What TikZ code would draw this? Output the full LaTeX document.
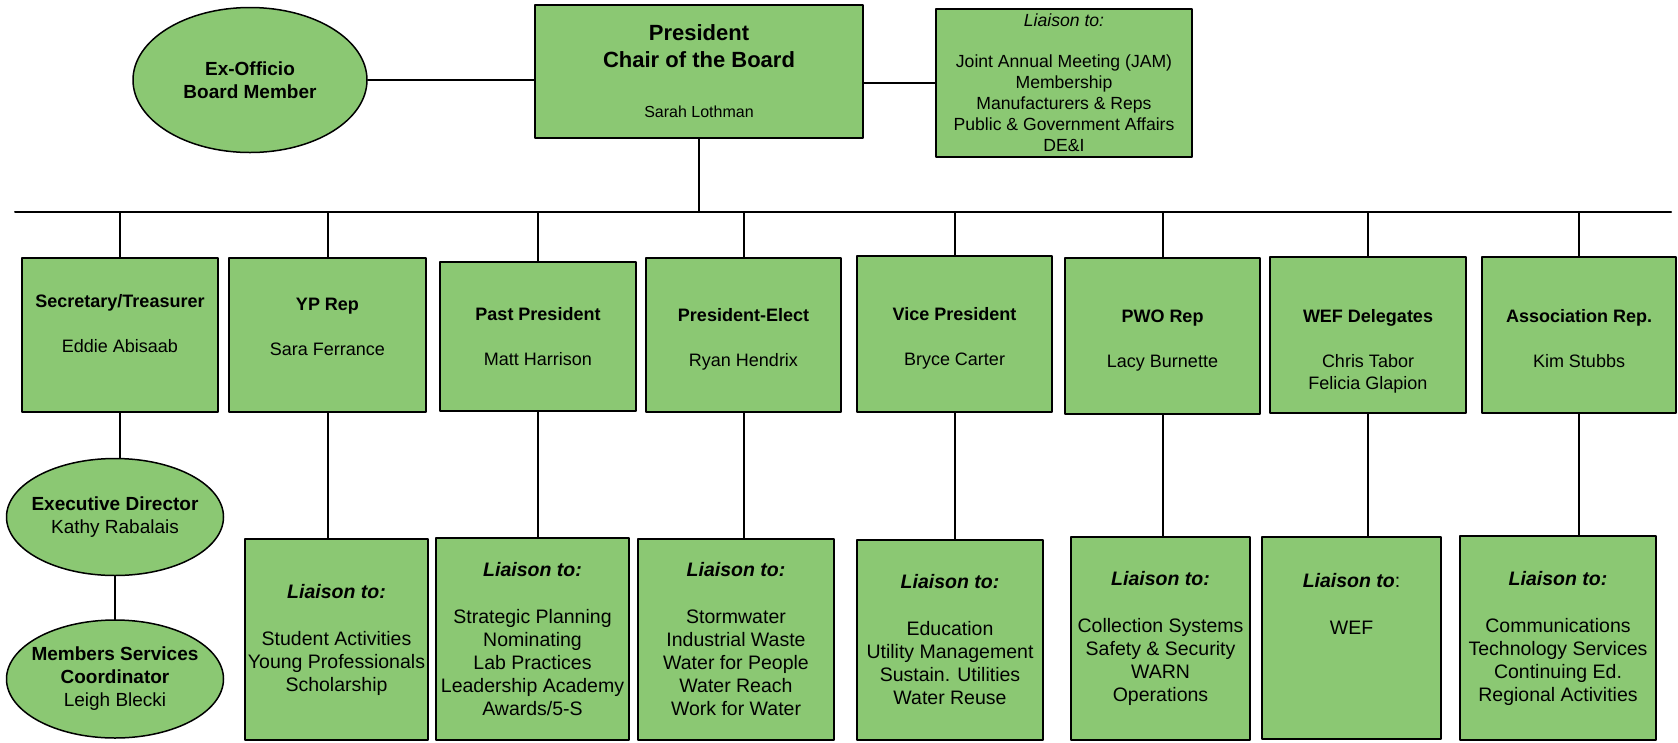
\documentclass[tikz,border=0pt]{standalone}
\usepackage{fontspec}
\setmainfont{Liberation Sans}
\usepackage{xcolor}
\usepackage{tikz}
\usetikzlibrary{shapes.geometric}
\definecolor{hhccgg}{rgb}{0.545,0.784,0.451}
\tikzstyle{every node}=[font=\fontsize{18}{22}\selectfont]
\tikzstyle{officebox}=[rectangle,draw=black,line width=2.4pt,fill=hhccgg,align=center,inner sep=0pt]
\tikzstyle{liaisonbox}=[officebox,font=\fontsize{19.5}{23}\selectfont]
\tikzstyle{staffoval}=[ellipse,draw=black,line width=1.5pt,fill=hhccgg,align=center,inner xsep=-30pt,inner ysep=0pt,font=\fontsize{19}{23}\selectfont]
\tikzstyle{link}=[line width=2pt,color=black]

\begin{document}
\begin{tikzpicture}[line cap=round,line join=round,x=1pt,y=-1pt]
\useasboundingbox (0,0) rectangle (1678,742);
\node[staffoval,minimum width=234pt,minimum height=145pt] (exo) at (250,80) {\textbf{Ex-Officio}\\\textbf{Board Member}};
\node[officebox,minimum width=328pt,minimum height=133pt,font=\fontsize{22}{27}\selectfont] (pres) at (699,71.5) {\textbf{President}\\\textbf{Chair of the Board}\\[23pt]{\fontsize{16}{19}\selectfont Sarah Lothman}};
\node[officebox,minimum width=256pt,minimum height=148pt,font=\fontsize{17.6}{21}\selectfont] (presl) at (1064,83) {\textit{Liaison to:}\\[20pt]Joint Annual Meeting (JAM)\\Membership\\Manufacturers \& Reps\\Public \& Government Affairs\\DE\&I};
\node[officebox,minimum width=196pt,minimum height=154pt] (sec) at (120,335) {\textbf{Secretary/Treasurer}\\[23pt]Eddie Abisaab\\[1pt]\mbox{}};
\node[officebox,minimum width=197pt,minimum height=154pt] (yp) at (327.5,335) {\textbf{YP Rep}\\[23pt]Sara Ferrance\\[-5pt]\mbox{}};
\node[officebox,minimum width=196pt,minimum height=149pt] (pp) at (538,336.5) {\textbf{Past President}\\[23pt]Matt Harrison};
\node[officebox,minimum width=195pt,minimum height=154pt] (pe) at (743.5,335) {\mbox{}\\[-1pt]\textbf{President-Elect}\\[23pt]Ryan Hendrix};
\node[officebox,minimum width=195pt,minimum height=156pt] (vp) at (954.5,334) {\mbox{}\\[-1pt]\textbf{Vice President}\\[23pt]Bryce Carter};
\node[officebox,minimum width=195pt,minimum height=156pt] (pwo) at (1162.5,336) {\mbox{}\\[-1pt]\textbf{PWO Rep}\\[23pt]Lacy Burnette};
\node[officebox,minimum width=196pt,minimum height=156pt] (wef) at (1368,335) {\mbox{}\\[23pt]\textbf{WEF Delegates}\\[23pt]Chris Tabor\\Felicia Glapion};
\node[officebox,minimum width=194pt,minimum height=156pt] (assoc) at (1579,335) {\mbox{}\\[-1pt]\textbf{Association Rep.}\\[23pt]Kim Stubbs};
\node[staffoval,minimum width=217pt,minimum height=117pt] (exec) at (115,517) {\textbf{Executive Director}\\Kathy Rabalais};
\node[staffoval,minimum width=217pt,minimum height=118pt] (mem) at (115,679) {\textbf{Members Services}\\\textbf{Coordinator}\\Leigh Blecki};
\node[liaisonbox,minimum width=183pt,minimum height=201pt] (ypl) at (336.5,639.5) {\textbf{\textit{Liaison to:}}\\[24pt]Student Activities\\Young Professionals\\Scholarship};
\node[liaisonbox,minimum width=193pt,minimum height=202pt] (ppl) at (532.5,639) {\textbf{\textit{Liaison to:}}\\[24pt]Strategic Planning\\Nominating\\Lab Practices\\Leadership Academy\\Awards/5-S};
\node[liaisonbox,minimum width=196pt,minimum height=201pt] (pel) at (736,639.5) {\textbf{\textit{Liaison to:}}\\[24pt]Stormwater\\Industrial Waste\\Water for People\\Water Reach\\Work for Water};
\node[liaisonbox,minimum width=186pt,minimum height=200pt] (vpl) at (950,640) {\textbf{\textit{Liaison to:}}\\[24pt]Education\\Utility Management\\Sustain. Utilities\\Water Reuse};
\node[liaisonbox,minimum width=179pt,minimum height=203pt] (pwol) at (1160.5,638.5) {\textbf{\textit{Liaison to:}}\\[24pt]Collection Systems\\Safety \& Security\\WARN\\Operations};
\node[liaisonbox,minimum width=179pt,minimum height=202pt] (wefl) at (1351.5,638) {\textbf{\textit{Liaison to}}:\\[24pt]WEF\\\mbox{}\\\mbox{}\\\mbox{}};
\node[liaisonbox,minimum width=196pt,minimum height=204pt] (assocl) at (1558,638) {\textbf{\textit{Liaison to:}}\\[24pt]Communications\\Technology Services\\Continuing Ed.\\Regional Activities};
\coordinate (busL) at (15,212);
\coordinate (busR) at (1671,212);
\draw[link] (exo.east) -- (exo.east -| pres.west);
\draw[link] (presl.west -| pres.east) -- (presl.west);
\draw[link] (pres.south) -- (pres.south |- busL);
\draw[link] (busL) -- (busR);
\draw[link] (sec.north) -- (sec.north |- busL);
\draw[link] (yp.north) -- (yp.north |- busL);
\draw[link] (pp.north) -- (pp.north |- busL);
\draw[link] (pe.north) -- (pe.north |- busL);
\draw[link] (vp.north) -- (vp.north |- busL);
\draw[link] (pwo.north) -- (pwo.north |- busL);
\draw[link] (wef.north) -- (wef.north |- busL);
\draw[link] (assoc.north) -- (assoc.north |- busL);
\draw[link] (sec.south) -- (sec.south |- exec.north);
\draw[link] (exec.south) -- (mem.north);
\draw[link] (yp.south) -- (yp.south |- ypl.north);
\draw[link] (pp.south) -- (pp.south |- ppl.north);
\draw[link] (pe.south) -- (pe.south |- pel.north);
\draw[link] (vp.south) -- (vp.south |- vpl.north);
\draw[link] (pwo.south) -- (pwo.south |- pwol.north);
\draw[link] (wef.south) -- (wef.south |- wefl.north);
\draw[link] (assoc.south) -- (assoc.south |- assocl.north);
\end{tikzpicture}
\end{document}
